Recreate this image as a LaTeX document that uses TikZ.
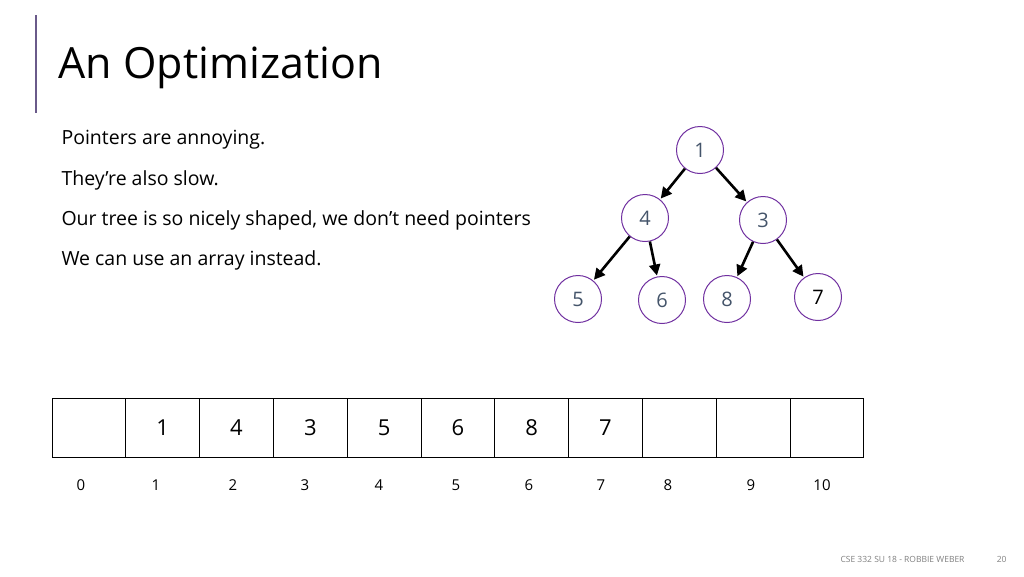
\documentclass[tikz,border=0pt]{standalone}
\usepackage{fontspec}
\setmainfont{Open Sans}
\usetikzlibrary{arrows.meta, positioning}
\definecolor{heapline}{HTML}{7030A0}
\definecolor{heaptext}{HTML}{44546A}
\definecolor{barcol}{HTML}{6A5A8A}

\begin{document}
\begin{tikzpicture}[x=1pt,y=-1pt,
    heapnode/.style={circle,draw=heapline,line width=1pt,minimum size=47pt,inner sep=0pt,
                     text=heaptext,font=\fontsize{20}{24}\selectfont},
    child/.style={-{Triangle[length=11pt,width=11pt]},line width=2.6pt,shorten >=1pt},
    cell/.style={draw,line width=0.9pt,minimum width=73.8pt,minimum height=59pt,inner sep=0pt,
                 font=\fontsize{22}{26}\selectfont},
    idx/.style={font=\fontsize{15}{18}\selectfont},
    bullet/.style={anchor=west,font=\fontsize{19.5}{24}\selectfont}]
   \useasboundingbox (0,0) rectangle (1024,576);

   % Title
      \draw[barcol,line width=1.5pt] (36,15) -- (36,113);
      \node[anchor=base west,font=\fontsize{43}{50}\selectfont] (title) at (55,78) {An Optimization};

   % Text
      \node[bullet] (p1) at (58,140) {Pointers are annoying.};
      \node[bullet] (p2) at (58,180) {They’re also slow.};
      \node[bullet] (p3) at (58,220) {Our tree is so nicely shaped, we don’t need pointers};
      \node[bullet] (p4) at (58,260) {We can use an array instead.};

   % Tree
      \node[heapnode] (n1) at (700,150) {1};
      \node[heapnode] (n4) at (645,218) {4};
      \node[heapnode] (n3) at (763,220) {3};
      \node[heapnode] (n5) at (578,299) {5};
      \node[heapnode] (n6) at (662,300) {6};
      \node[heapnode] (n8) at (727,299) {8};
      \node[heapnode,text=black] (n7) at (818,297) {7};
      \draw[child] (n1) -- (n4);
      \draw[child] (n1) -- (n3);
      \draw[child] (n4) -- (n5);
      \draw[child] (n4) -- (n6);
      \draw[child] (n3) -- (n8);
      \draw[child] (n3) -- (n7);

   % Array
      \foreach \v [count=\i from 0] in {{},1,4,3,5,6,8,7,{},{},{}} {
         \node[cell] (c\i) at (88.9+73.8*\i,427.5) {\v};
      }
      \foreach \x [count=\i from 0] in {81,156,233,305,379,456,529,601,668,751,822} {
         \node[idx] (i\i) at (\x,485) {\i};
      }

   % Footer
      \node[anchor=base east,text=gray,font=\fontsize{8.5}{10}\selectfont] (foot) at (968,562) {CSE 332 SU 18 - ROBBIE WEBER};
      \node[anchor=base east,text=gray,font=\fontsize{8.5}{10}\selectfont] (page) at (1010,562) {20};
\end{tikzpicture}
\end{document}
